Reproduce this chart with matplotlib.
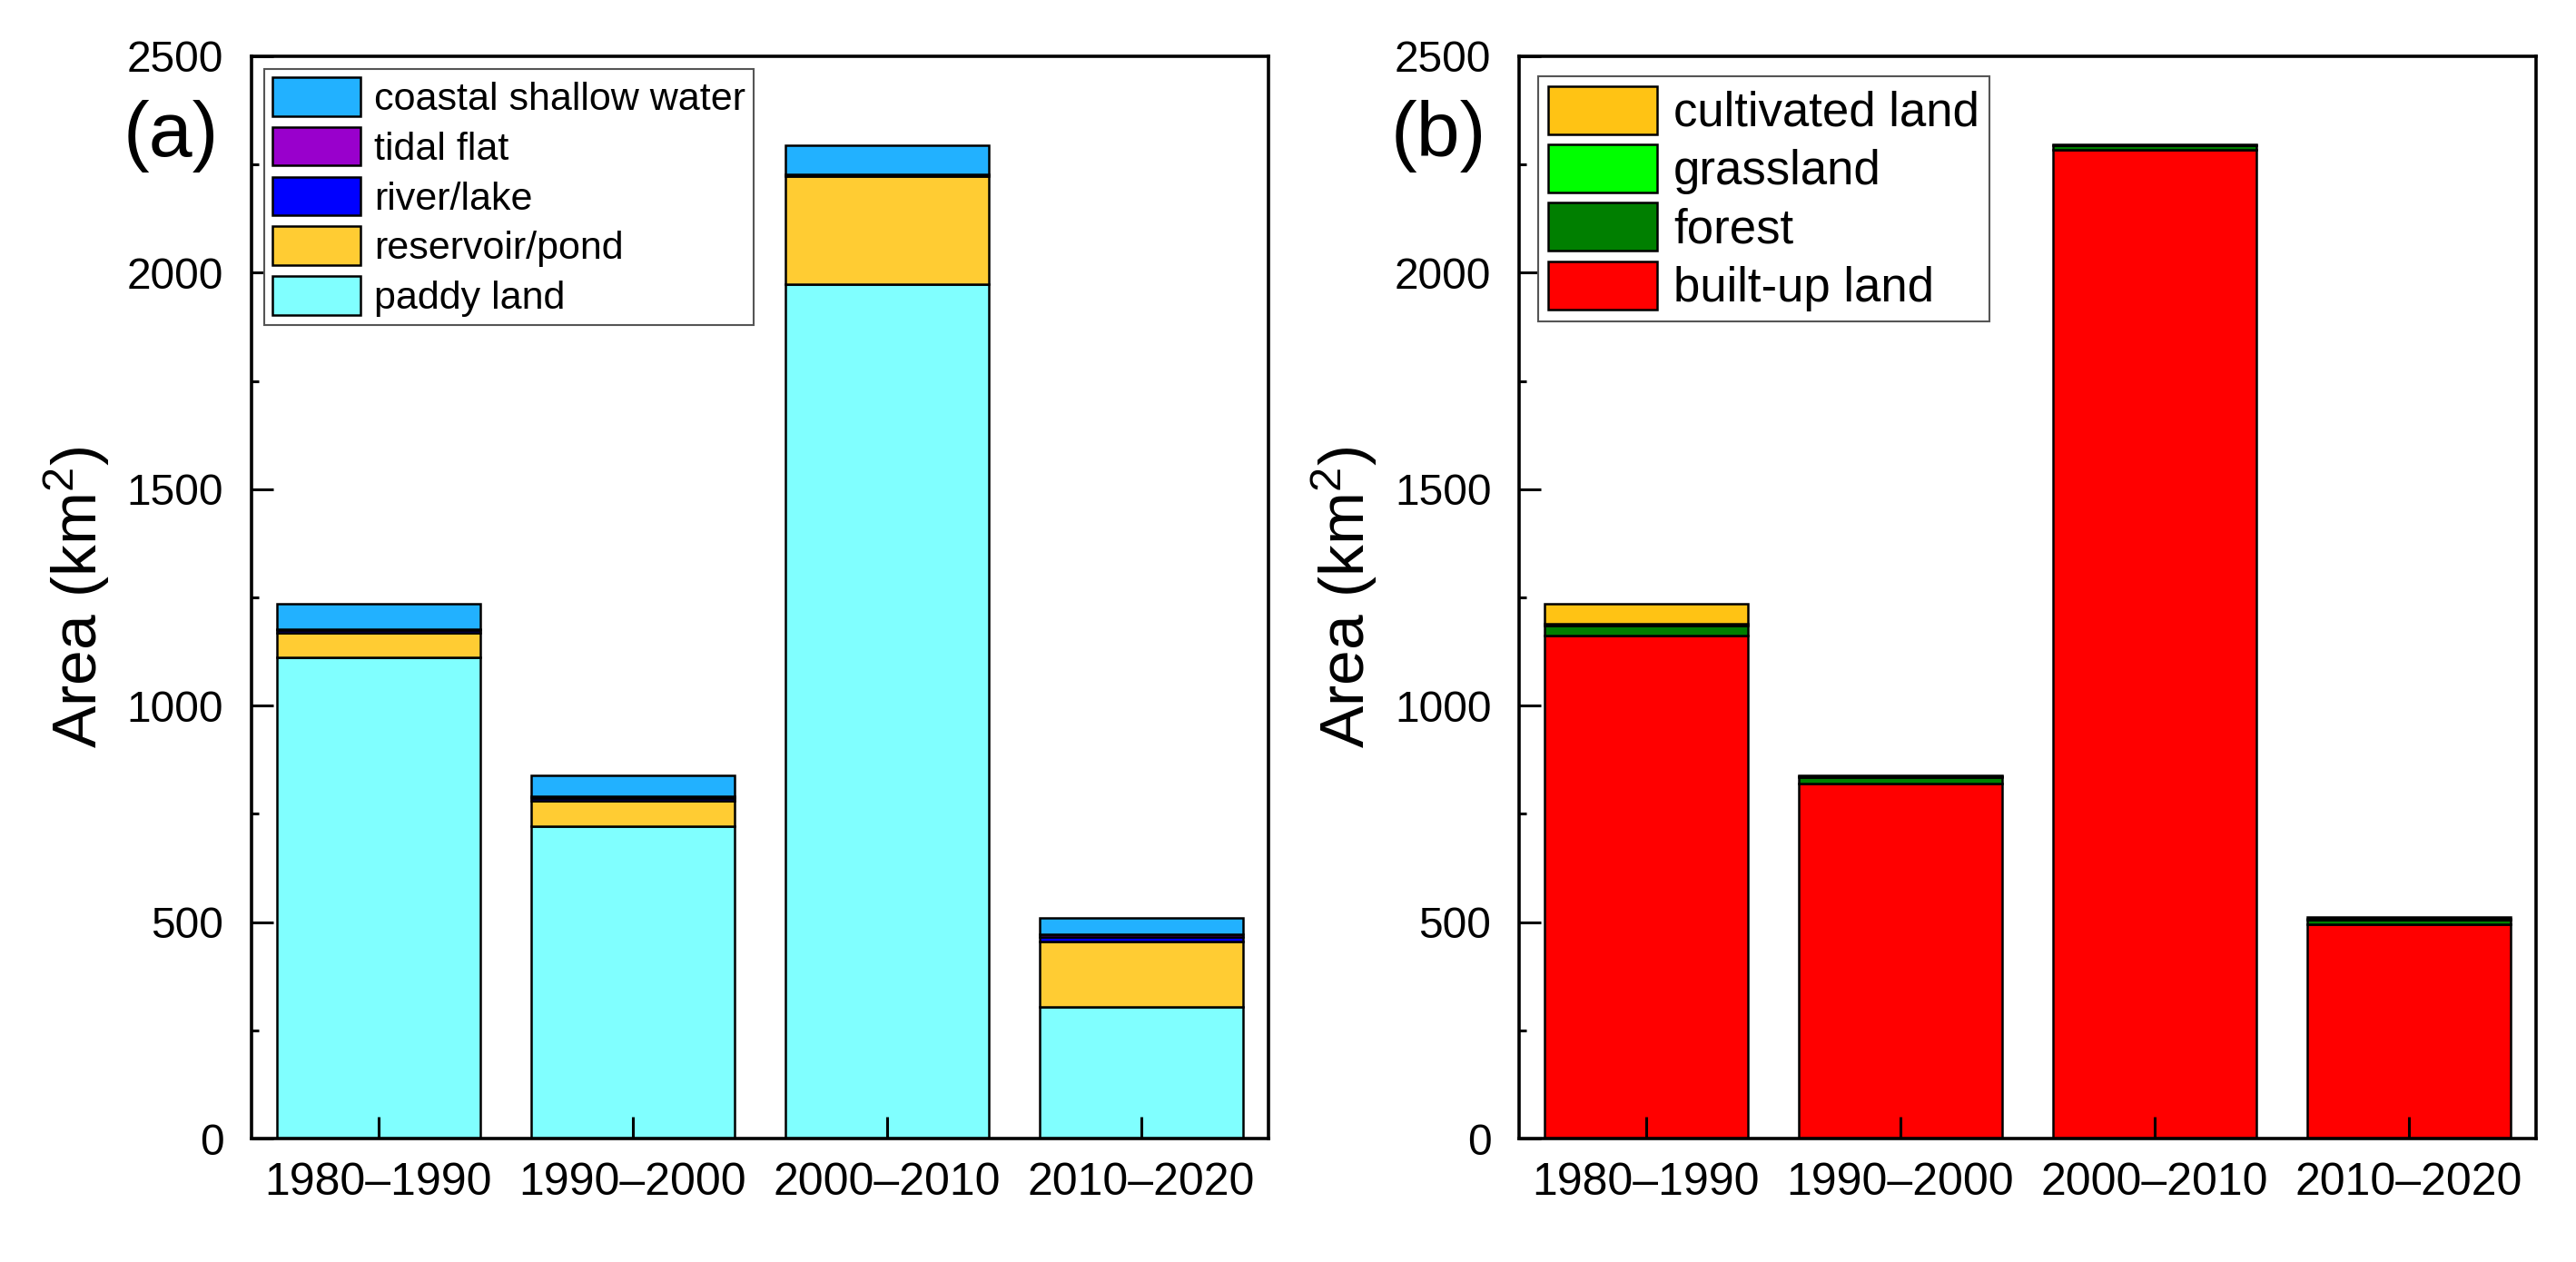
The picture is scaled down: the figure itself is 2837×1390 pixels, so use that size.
import numpy as np
from matplotlib import pyplot as plt
from matplotlib.ticker import MultipleLocator

plt.rcParams['font.family'] = ['Liberation Sans', 'DejaVu Sans']
plt.rcParams['mathtext.fontset'] = 'custom'
plt.rcParams['mathtext.rm'] = 'Liberation Sans'
plt.rcParams['mathtext.it'] = 'Liberation Sans:italic'

periodos = ['1980–1990', '1990–2000', '2000–2010', '2010–2020']

# panel (a): agua / arrozales (de abajo hacia arriba)
paddy = [1111, 722, 1974, 304]
reservoir = [57, 58, 250, 151]
river_lake = [7, 7, 3, 11]
tidal_flat = [2, 3, 1, 6]
coastal = [58, 49, 67, 38]

# panel (b): usos del suelo (de abajo hacia arriba)
built_up = [1163, 820, 2285, 496]
forest = [22, 14, 9, 10]
grassland = [4, 2, 1, 2]
cultivated = [46, 3, 2, 4]

series_a = [
    ('paddy land', paddy, '#80FFFF'),
    ('reservoir/pond', reservoir, '#FFCC33'),
    ('river/lake', river_lake, '#0000FF'),
    ('tidal flat', tidal_flat, '#9900CC'),
    ('coastal shallow water', coastal, '#22B1FF'),
]
series_b = [
    ('built-up land', built_up, '#FF0000'),
    ('forest', forest, '#007F00'),
    ('grassland', grassland, '#00FF00'),
    ('cultivated land', cultivated, '#FFC314'),
]


def apilar(ax, series):
    x = np.arange(len(periodos))
    base = np.zeros(len(periodos))
    handles = []
    for nombre, valores, color in series:
        b = ax.bar(x, valores, width=0.8, bottom=base, color=color,
                   edgecolor='black', linewidth=1.8, label=nombre)
        base = base + np.array(valores)
        handles.append(b)
    return handles


def formato(ax, letra):
    ax.set_xlim(-0.5, 3.5)
    ax.set_ylim(0, 2500)
    ax.set_xticks(np.arange(len(periodos)))
    ax.set_xticklabels(periodos)
    ax.yaxis.set_major_locator(MultipleLocator(500))
    ax.yaxis.set_minor_locator(MultipleLocator(250))
    ax.tick_params(axis='both', which='major', direction='in', length=17,
                   width=2.2, pad=22)
    ax.tick_params(axis='x', which='major', pad=19, labelsize=36)
    ax.tick_params(axis='y', which='major', labelsize=34.5)
    ax.tick_params(axis='y', which='minor', direction='in', length=6, width=2.2)
    for s in ax.spines.values():
        s.set_linewidth(2.6)
    ax.set_ylabel('Area (km$^2$)', fontsize=50, va='center')
    ax.yaxis.set_label_coords(-0.172, 0.5)
    ax.text(-0.079, 0.926, letra, transform=ax.transAxes, fontsize=62,
            ha='center', va='center')


fig = plt.figure(figsize=(28.37, 13.90), dpi=100)
ax1 = fig.add_axes([0.0976, 0.0978, 0.3948, 0.8576])
ax2 = fig.add_axes([0.5897, 0.0978, 0.3948, 0.8576])

h1 = apilar(ax1, series_a)
formato(ax1, '(a)')
leg1 = ax1.legend(handles=h1[::-1], loc='upper left', bbox_to_anchor=(0.013, 0.988),
                  borderaxespad=0, fontsize=31, fancybox=False, edgecolor='#555555',
                  framealpha=1, handlelength=2.25, handleheight=1.15,
                  labelspacing=0.23, handletextpad=0.35, borderpad=0.2)
leg1.get_frame().set_linewidth(1.5)

h2 = apilar(ax2, series_b)
formato(ax2, '(b)')
leg2 = ax2.legend(handles=h2[::-1], loc='upper left', bbox_to_anchor=(0.019, 0.9815),
                  borderaxespad=0, fontsize=38, fancybox=False, edgecolor='#555555',
                  framealpha=1, handlelength=2.27, handleheight=1.17,
                  labelspacing=0.17, handletextpad=0.35, borderpad=0.2)
leg2.get_frame().set_linewidth(1.5)

fig.savefig('out.png', dpi=100)
plt.close(fig)
